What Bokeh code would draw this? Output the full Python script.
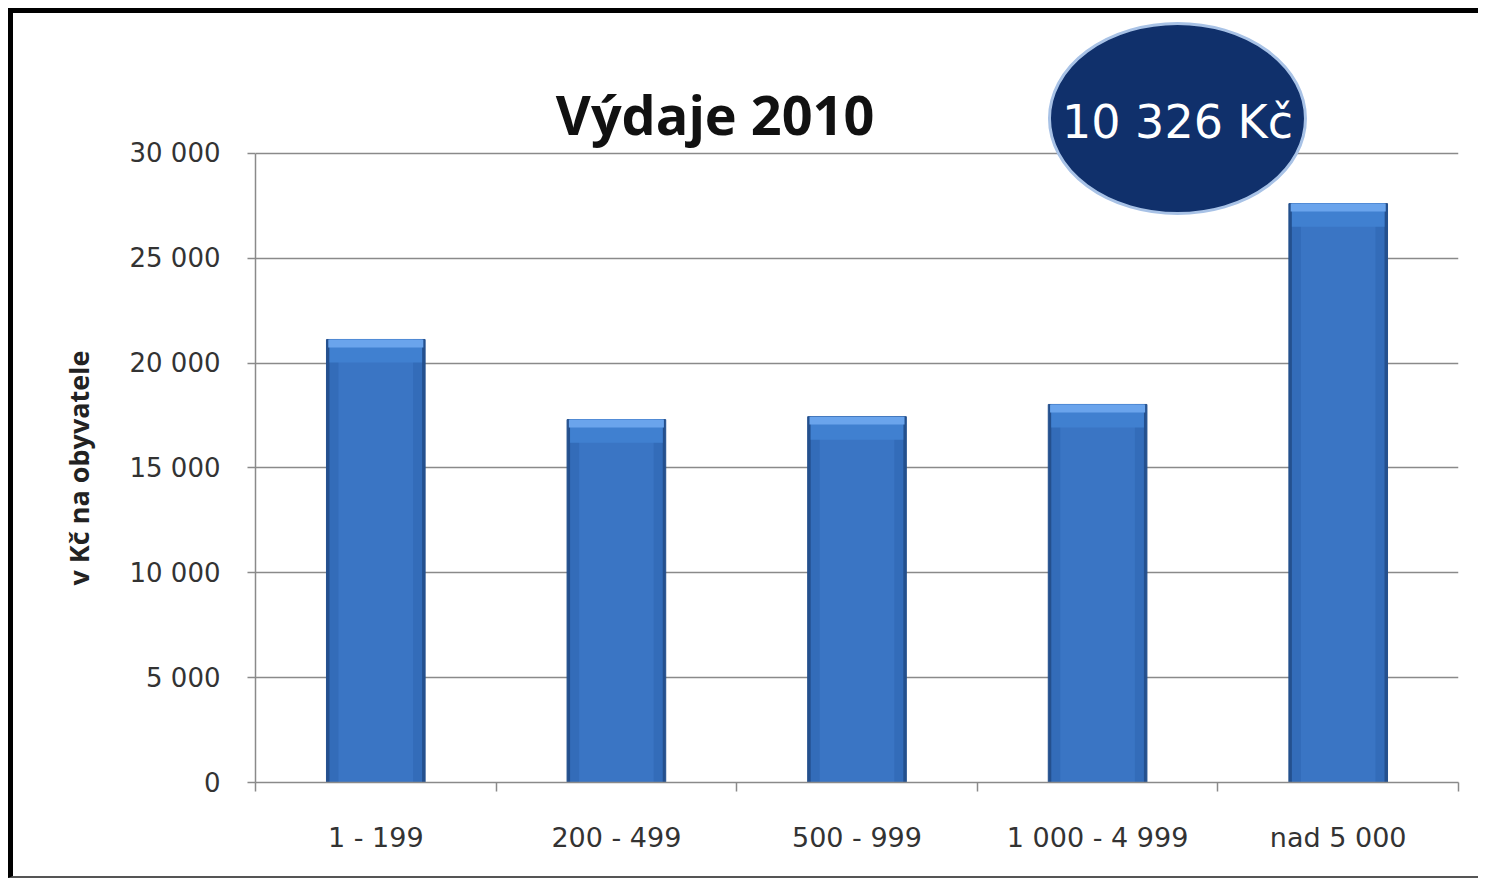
from bokeh.plotting import figure
from bokeh.models import FixedTicker, Label, ColumnDataSource, Title
from bokeh.embed import file_html
from bokeh.resources import INLINE

# ---- data ----
categories = ["1 - 199", "200 - 499", "500 - 999", "1 000 - 4 999", "nad 5 000"]
values = [21130, 17310, 17450, 18030, 27610]
y_ticks = [0, 5000, 10000, 15000, 20000, 25000, 30000]
y_tick_labels = ["0", "5 000", "10 000", "15 000", "20 000", "25 000", "30 000"]
title_text = "Výdaje 2010"
y_axis_title = "v Kč na obyvatele"
callout_text = "10 326 Kč"

xs = [i + 0.5 for i in range(len(categories))]
src = ColumnDataSource(dict(x=xs, top=values,
                            hl=[v - 380 for v in values],
                            hl2=[v - 1100 for v in values]))

W, H = 1470, 870
p = figure(width=W, height=H, output_backend="svg", toolbar_location=None,
           x_range=(0, len(categories)), y_range=(0, 36343),
           min_border_left=242, min_border_right=25, min_border_top=7,
           min_border_bottom=101, background_fill_color="white",
           border_fill_color="white", outline_line_color=None)
p.styles = {"margin-top": "8px", "margin-left": "8px",
            "border-top": "5px solid black", "border-left": "5px solid black",
            "border-bottom": "2px solid #555555"}

# grid
p.xgrid.visible = False
p.ygrid.grid_line_color = "#8a8a8a"
p.ygrid.grid_line_width = 1.5

# y axis
p.yaxis.ticker = FixedTicker(ticks=y_ticks, minor_ticks=[])
p.yaxis.major_label_overrides = {t: l for t, l in zip(y_ticks, y_tick_labels)}
p.yaxis.bounds = (y_ticks[0], y_ticks[-1])
p.yaxis.axis_line_color = "#8a8a8a"
p.yaxis.axis_line_width = 1.5
p.yaxis.major_tick_line_color = "#8a8a8a"
p.yaxis.major_tick_line_width = 1.5
p.yaxis.major_tick_out = 8
p.yaxis.major_tick_in = 0
p.yaxis.major_label_text_font = "DejaVu Sans"
p.yaxis.major_label_text_font_size = "26px"
p.yaxis.major_label_text_color = "#333333"
p.yaxis.major_label_standoff = 27

# y-axis title as a left-side title, shifted to sit on the 0..30 000 span
p.add_layout(Title(text=y_axis_title, align="left", offset=197, standoff=60,
                   text_font="Open Sans", text_font_style="bold",
                   text_font_size="27px", text_color="#222222"), "left")

# x axis
p.xaxis.ticker = FixedTicker(ticks=xs, minor_ticks=list(range(len(categories) + 1)))
p.xaxis.major_label_overrides = {x: c for x, c in zip(xs, categories)}
p.xaxis.axis_line_color = "#8a8a8a"
p.xaxis.axis_line_width = 1.5
p.xaxis.major_tick_out = 0
p.xaxis.major_tick_in = 0
p.xaxis.minor_tick_out = 9
p.xaxis.minor_tick_in = 0
p.xaxis.minor_tick_line_color = "#8a8a8a"
p.xaxis.minor_tick_line_width = 1.5
p.xaxis.major_label_text_font = "DejaVu Sans"
p.xaxis.major_label_text_font_size = "27px"
p.xaxis.major_label_text_color = "#333333"
p.xaxis.major_label_standoff = 30

# bars (layered for bevel look)
p.vbar(x="x", top="top", bottom=0, width=0.41, source=src,
       fill_color="#24508e", line_color="#24508e")
p.vbar(x="x", top="top", bottom=0, width=0.385, source=src,
       fill_color="#336cb9", line_color=None)
p.vbar(x="x", top="top", bottom=0, width=0.31, source=src,
       fill_color="#3a75c4", line_color=None)
p.vbar(x="x", top="top", bottom="hl2", width=0.385, source=src,
       fill_color="#4080d0", line_color=None)
p.vbar(x="x", top="top", bottom="hl", width=0.395, source=src,
       fill_color="#6aa4ec", line_color=None)

# title
p.add_layout(Label(x=1.91, y=31860, text=title_text, text_align="center",
                   text_baseline="alphabetic", text_font="Open Sans",
                   text_font_style="bold", text_font_size="54px",
                   text_color="#111111"))

# callout ellipse
p.ellipse(x=[3.832], y=[31669], width=[256], height=[190],
          width_units="screen", height_units="screen",
          fill_color="#10306b", line_color="#a8c2e6", line_width=3)
p.add_layout(Label(x=3.832, y=31520, text=callout_text, text_align="center",
                   text_baseline="middle", text_font="DejaVu Sans",
                   text_font_size="46px", text_color="white"))

open("out.html", "w").write(file_html(p, INLINE))
